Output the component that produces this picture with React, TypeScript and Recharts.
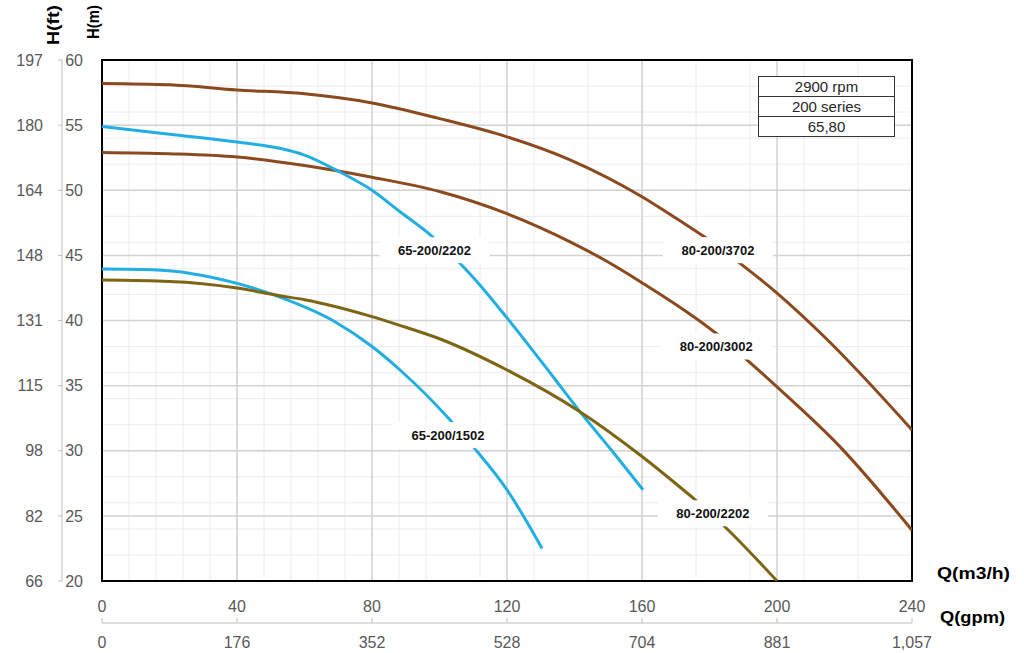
import React from 'react';
import {
  LineChart,
  Line,
  XAxis,
  YAxis,
  CartesianGrid,
  ReferenceArea,
  ReferenceDot,
} from 'recharts';

// unit conversions for the secondary axes
const M_TO_FT = 3.28084;
const M3H_TO_GPM = 4.40287;

const qTicks = [0, 40, 80, 120, 160, 200, 240];
const hTicks = [20, 25, 30, 35, 40, 45, 50, 55, 60];
const qMinor = [0, 8, 16, 24, 32, 40, 48, 56, 64, 72, 80, 88, 96, 104, 112, 120, 128, 136, 144, 152, 160, 168, 176, 184, 192, 200, 208, 216, 224, 232, 240];
const hMinor = [20, 21, 22, 23, 24, 25, 26, 27, 28, 29, 30, 31, 32, 33, 34, 35, 36, 37, 38, 39, 40, 41, 42, 43, 44, 45, 46, 47, 48, 49, 50, 51, 52, 53, 54, 55, 56, 57, 58, 59, 60];

// pump curves: Q in m3/h, H in m
const q3702 = [0, 20, 40, 60, 80, 100, 120, 139, 160, 168, 178, 188, 200, 215, 240];
const h3702 = [58.2, 58.1, 57.7, 57.4, 56.7, 55.5, 54.1, 52.3, 49.5, 48.2, 46.5, 44.6, 42.1, 38.5, 31.6];

const q3002 = [0, 20, 40, 60, 80, 100, 120, 139, 148.5, 159.4, 182, 191, 200, 218.7, 240];
const h3002 = [52.9, 52.8, 52.55, 51.9, 51.0, 49.9, 48.2, 46.0, 44.7, 43.0, 39.0, 37.0, 34.9, 30.3, 23.9];

const q652202 = [0, 20, 40, 53, 60, 70.5, 80, 88.3, 97.2, 110, 120, 133.6, 141.6, 151.4, 160.3];
const h652202 = [54.9, 54.3, 53.7, 53.2, 52.7, 51.4, 50.0, 48.35, 46.6, 43.3, 40.2, 35.7, 33.0, 29.9, 27.0];

const q1502 = [0, 15, 40, 52.7, 68.4, 80, 88.3, 103, 110, 120, 130.4];
const h1502 = [43.95, 43.9, 42.85, 41.8, 40.0, 38.0, 36.2, 32.4, 30.3, 27.0, 22.5];

const q802202 = [0, 20, 40, 52.7, 60, 80, 88, 100, 120, 141.6, 160.3, 171.3, 175, 184, 200];
const h802202 = [43.1, 43.0, 42.5, 41.9, 41.6, 40.3, 39.65, 38.6, 36.2, 33.0, 29.5, 27.2, 26.4, 24.3, 20.0];

const curveLabels = [
  { name: '65-200/2202', q: 98.5, h: 45.4 },
  { name: '80-200/3702', q: 182.5, h: 45.4 },
  { name: '80-200/3002', q: 182, h: 38.0 },
  { name: '65-200/1502', q: 102.5, h: 31.2 },
  { name: '80-200/2202', q: 181, h: 25.2 },
];

const infoRows = ['2900 rpm', '200 series', '65,80'];

const BROWN = '#8b4a1e';
const BLUE = '#21aee3';
const OLIVE = '#7e6514';

const toPoints = (qs: number[], hs: number[]) => qs.map((q, i) => ({ q, h: hs[i] }));

const series = [
  { id: '3702', data: toPoints(q3702, h3702), color: BROWN },
  { id: '3002', data: toPoints(q3002, h3002), color: BROWN },
  { id: '65-2202', data: toPoints(q652202, h652202), color: BLUE },
  { id: '1502', data: toPoints(q1502, h1502), color: BLUE },
  { id: '80-2202', data: toPoints(q802202, h802202), color: OLIVE },
];

const TICK_FONT = '"Liberation Sans", Arial, sans-serif';
const NARROW_FONT = '"Liberation Sans Narrow", "Arial Narrow", sans-serif';

const fmtNum = (v: number) => Math.round(v).toLocaleString('en-US');

// axis ids sort alphabetically: the first one sits next to the plot
const X_Q = 'q1';
const X_GPM = 'q2gpm';
const Y_M = 'h1m';
const Y_FT = 'h2ft';

const LabelBox = (name: string) => (props: any) => {
  const { cx, cy } = props;
  return (
    <g>
      <rect x={cx - 55} y={cy - 13} width={110} height={26} fill="#fff" />
      <text x={cx} y={cy} dy="0.35em" textAnchor="middle" fontSize={13} fontWeight="bold" fill="#111" fontFamily={NARROW_FONT}>
        {name}
      </text>
    </g>
  );
};

export default function App() {
  return (
    <div style={{ position: 'absolute', left: 0, top: 0, width: 1024, height: 653, background: '#fff' }}>
      <LineChart
        width={1024}
        height={653}
        margin={{ top: 60, right: 112, left: 2, bottom: 0 }}
        style={{ fontFamily: TICK_FONT }}
      >
        <CartesianGrid xAxisId={X_Q} yAxisId={Y_M} stroke="#ececec" verticalValues={qMinor} horizontalValues={hMinor} />
        <CartesianGrid xAxisId={X_Q} yAxisId={Y_M} stroke="#d2d2d2" strokeWidth={1.5} verticalValues={qTicks} horizontalValues={hTicks} />

        <XAxis
          xAxisId={X_Q}
          dataKey="q"
          type="number"
          domain={[0, 240]}
          ticks={qTicks}
          allowDataOverflow
          height={42}
          axisLine={false}
          tickLine={false}
          tickSize={0}
          tickMargin={20}
          tick={{ fill: '#595959', fontSize: 16, fontFamily: NARROW_FONT }}
        />
        {/* same flow scale, labelled in gpm; negative tick size points the marks up */}
        <XAxis
          xAxisId={X_GPM}
          dataKey="q"
          type="number"
          domain={[0, 240]}
          ticks={qTicks}
          tickFormatter={(q: number) => fmtNum(q * M3H_TO_GPM)}
          allowDataOverflow
          interval={0}
          height={30}
          axisLine={{ stroke: '#bfbfbf' }}
          tickLine={{ stroke: '#bfbfbf' }}
          tickSize={-5}
          tickMargin={19}
          tick={{ fill: '#595959', fontSize: 16, fontFamily: NARROW_FONT }}
        />

        <YAxis
          yAxisId={Y_M}
          type="number"
          domain={[20, 60]}
          ticks={hTicks}
          allowDataOverflow
          width={40}
          axisLine={false}
          tickLine={false}
          tickSize={0}
          tickMargin={19}
          tick={{ fill: '#595959', fontSize: 16 }}
        />
        <YAxis
          yAxisId={Y_FT}
          type="number"
          domain={[20 * M_TO_FT, 60 * M_TO_FT]}
          ticks={hTicks.map((h) => h * M_TO_FT)}
          tickFormatter={fmtNum}
          allowDataOverflow
          width={60}
          axisLine={{ stroke: '#bfbfbf' }}
          tickLine={{ stroke: '#bfbfbf' }}
          tickSize={4}
          tickMargin={15}
          tick={{ fill: '#595959', fontSize: 16 }}
        />

        {series.map((s) => (
          <Line
            key={s.id}
            xAxisId={X_Q}
            yAxisId={Y_M}
            data={s.data}
            dataKey="h"
            type="monotone"
            stroke={s.color}
            strokeWidth={3}
            dot={false}
            activeDot={false}
            isAnimationActive={false}
          />
        ))}

        {curveLabels.map((l) => (
          <ReferenceDot
            key={l.name}
            xAxisId={X_Q}
            yAxisId={Y_M}
            x={l.q}
            y={l.h}
            r={0}
            shape={LabelBox(l.name)}
          />
        ))}

        <ReferenceArea xAxisId={X_Q} yAxisId={Y_M} x1={0} x2={240} y1={20} y2={60} fill="none" stroke="#000" strokeWidth={2} />
      </LineChart>

      <svg width={1024} height={653} style={{ position: 'absolute', left: 0, top: 0, pointerEvents: 'none' }}>
        <text transform="translate(59,25) rotate(-90)" textAnchor="middle" fontSize={16} fontWeight="bold" textLength={40} lengthAdjust="spacingAndGlyphs" fontFamily={TICK_FONT}>H(ft)</text>
        <text transform="translate(99,22) rotate(-90)" textAnchor="middle" fontSize={16} fontWeight="bold" textLength={34} lengthAdjust="spacingAndGlyphs" fontFamily={TICK_FONT}>H(m)</text>
        <text x={937} y={579} fontSize={16} fontWeight="bold" textLength={73} lengthAdjust="spacingAndGlyphs" fontFamily={NARROW_FONT}>Q(m3/h)</text>
        <text x={940} y={623} fontSize={16} fontWeight="bold" textLength={65} lengthAdjust="spacingAndGlyphs" fontFamily={NARROW_FONT}>Q(gpm)</text>
      </svg>

      <div style={{ position: 'absolute', left: 758, top: 76, width: 135, border: '1.5px solid #333', background: '#fff', fontFamily: TICK_FONT, fontSize: 15, color: '#262626' }}>
        {infoRows.map((row, i) => (
          <div key={row} style={{ height: 19, lineHeight: '19px', textAlign: 'center', borderTop: i ? '1.5px solid #333' : 'none' }}>
            {row}
          </div>
        ))}
      </div>
    </div>
  );
}
